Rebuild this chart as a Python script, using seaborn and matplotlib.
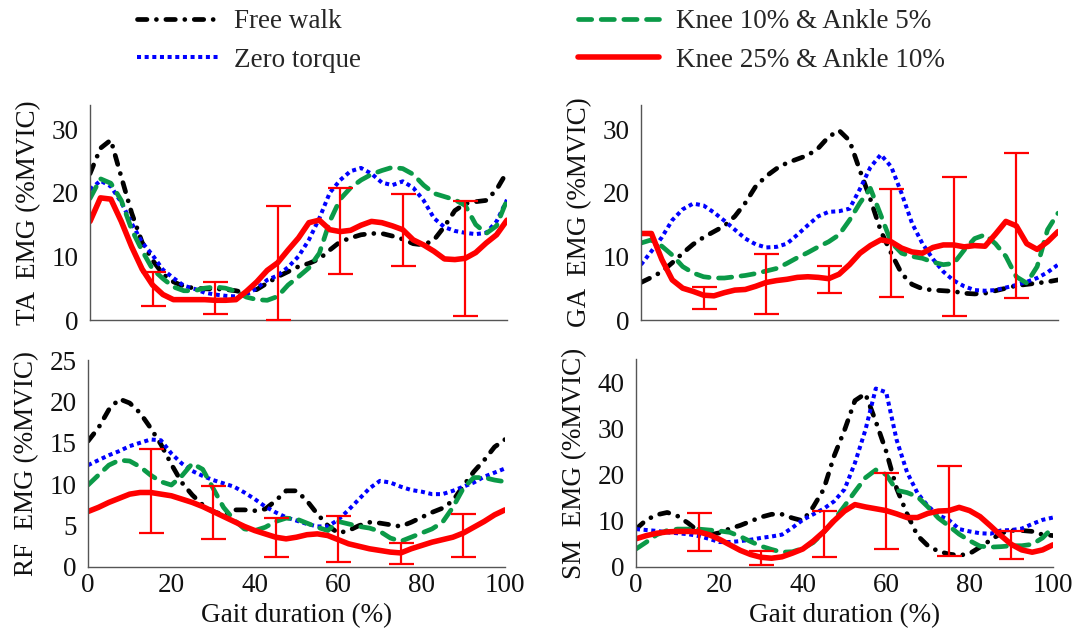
import numpy as np
import pandas as pd
import matplotlib
matplotlib.use("Agg")
import matplotlib.pyplot as plt
from matplotlib.lines import Line2D
import seaborn as sns

# ---------------------------------------------------------------- data
gait = np.arange(0, 100.1, 2.5)          # gait cycle (%)
bar_pos = [15, 30, 45, 60, 75, 90]       # where the SD bars of the K25/A10 condition sit

labels = ["Free walk", "Zero torque", "Knee 10% & Ankle 5%", "Knee 25% & Ankle 10%"]

# Tibialis anterior
ta_free = [23.0, 27.0, 28.3, 22.5, 16.8, 12.2, 9.4, 7.2, 6.0, 5.3, 5.0, 4.9, 4.9, 4.8, 4.6, 4.2, 4.8,
           5.8, 6.8, 7.6, 8.4, 8.9, 9.6, 11.0, 12.3, 12.9, 13.4, 13.6, 13.6, 13.2, 12.7, 12.0, 11.8,
           12.6, 14.7, 17.2, 18.3, 18.6, 18.8, 20.5, 23.3]
ta_zero = [20.5, 21.9, 21.0, 18.5, 15.2, 12.2, 10.2, 7.9, 6.6, 5.4, 4.9, 4.3, 4.0, 3.8, 3.7, 4.0, 5.0,
           6.3, 7.0, 8.3, 10.0, 12.6, 16.0, 20.0, 22.0, 23.4, 23.9, 23.0, 21.6, 21.2, 21.8, 20.8, 18.8,
           16.0, 14.6, 14.0, 13.7, 13.5, 13.7, 15.5, 18.9]
ta_k10 = [19.1, 22.2, 21.5, 18.8, 14.2, 10.9, 8.0, 6.5, 5.2, 4.6, 4.6, 5.0, 5.2, 5.0, 4.5, 3.6, 3.2,
          3.1, 3.7, 5.5, 6.8, 8.2, 10.5, 15.5, 19.0, 20.8, 22.0, 22.9, 23.5, 24.0, 23.8, 22.9, 21.2,
          19.9, 19.4, 18.9, 18.0, 15.0, 13.6, 14.8, 18.9]
ta_k25 = [15.5, 19.2, 19.0, 15.5, 11.5, 8.0, 5.5, 4.0, 3.2, 3.2, 3.2, 3.2, 3.1, 3.1, 3.2, 4.5, 6.0,
          7.8, 9.0, 11.0, 12.9, 15.3, 15.7, 14.2, 13.9, 14.1, 14.9, 15.5, 15.3, 14.8, 14.2, 12.6, 11.8,
          10.8, 9.6, 9.5, 9.7, 10.6, 12.1, 13.4, 15.7]
ta_lo = [2.2, 0.9, 0.0, 7.2, 8.5, 0.6]
ta_hi = [7.6, 5.9, 17.9, 20.7, 19.8, 18.7]

# Gastrocnemius
ga_free = [5.9, 6.7, 7.6, 9.0, 10.5, 11.9, 13.0, 13.9, 14.8, 16.3, 18.4, 21.0, 22.6, 23.8, 24.7, 25.3,
           25.9, 27.0, 28.8, 29.8, 28.2, 23.5, 19.0, 14.0, 10.5, 7.3, 5.6, 4.9, 4.7, 4.6, 4.5, 4.2,
           4.1, 4.2, 4.6, 5.0, 5.4, 5.6, 5.8, 6.0, 6.3]
ga_zero = [8.7, 10.8, 13.0, 15.7, 17.4, 18.3, 18.0, 16.9, 15.6, 14.2, 12.8, 11.9, 11.4, 11.5, 12.0, 13.4,
           14.9, 16.3, 17.0, 17.1, 17.5, 20.6, 24.0, 26.0, 24.1, 19.9, 15.2, 12.0, 9.6, 7.6, 6.2, 5.3,
           4.7, 4.6, 4.7, 5.1, 5.5, 6.0, 6.6, 7.5, 8.7]
ga_k10 = [12.1, 12.6, 11.6, 10.2, 8.4, 7.4, 6.8, 6.6, 6.6, 6.8, 7.0, 7.3, 7.7, 8.1, 8.9, 9.8, 10.6,
          11.5, 12.3, 13.4, 15.7, 18.4, 20.7, 16.5, 12.2, 10.5, 10.0, 9.7, 9.1, 8.7, 8.9, 11.0, 12.8,
          13.4, 12.0, 10.0, 6.8, 5.8, 8.4, 14.2, 16.8]
ga_k25 = [13.6, 13.6, 9.5, 6.3, 5.0, 4.5, 3.9, 3.8, 4.3, 4.7, 4.8, 5.3, 5.9, 6.2, 6.4, 6.7, 6.8, 6.7,
          6.5, 7.2, 8.7, 10.5, 11.7, 12.6, 12.3, 11.3, 10.7, 10.5, 11.4, 11.8, 11.8, 11.5, 11.7, 11.6,
          13.5, 15.5, 14.8, 12.0, 11.1, 12.3, 13.9]
ga_lo = [1.8, 0.9, 4.3, 3.6, 0.7, 3.4]
ga_hi = [5.2, 10.4, 8.5, 20.6, 22.5, 26.3]

# Rectus femoris
rf_free = [15.2, 16.8, 19.0, 20.3, 19.8, 18.6, 16.8, 14.8, 12.4, 10.2, 8.7, 7.5, 6.7, 6.3, 6.9, 6.9,
           6.8, 7.0, 8.0, 9.2, 9.2, 8.0, 6.4, 5.0, 4.1, 4.4, 5.0, 5.4, 5.3, 5.1, 4.9, 5.4, 6.0, 6.6,
           7.1, 8.0, 9.8, 11.5, 12.9, 14.5, 15.4]
rf_zero = [12.3, 12.9, 13.5, 14.0, 14.6, 15.0, 15.4, 15.3, 13.7, 12.5, 11.6, 11.0, 10.5, 10.1, 9.7, 9.0,
           8.2, 7.3, 6.6, 6.0, 5.6, 5.2, 4.9, 4.9, 5.7, 6.9, 8.2, 9.5, 10.4, 10.2, 9.7, 9.3, 9.1, 8.8,
           8.8, 9.2, 9.7, 10.2, 10.9, 11.4, 11.9]
rf_k10 = [9.9, 11.1, 12.3, 12.9, 12.8, 12.1, 11.1, 10.3, 9.9, 11.0, 12.5, 11.8, 9.5, 7.2, 5.7, 4.6,
          4.4, 4.8, 5.5, 5.9, 5.8, 5.3, 4.8, 4.4, 5.5, 5.2, 4.9, 4.7, 4.3, 3.5, 3.1, 3.6, 4.1, 4.6,
          5.4, 7.2, 9.5, 10.8, 10.8, 10.5, 10.3]
rf_k25 = [6.7, 7.2, 7.8, 8.3, 8.8, 9.0, 9.0, 8.8, 8.6, 8.2, 7.8, 7.3, 6.7, 6.1, 5.5, 4.9, 4.4, 4.0,
          3.6, 3.4, 3.6, 3.9, 4.0, 3.8, 3.3, 2.8, 2.5, 2.2, 2.0, 1.8, 1.7, 2.2, 2.6, 3.0, 3.3, 3.6,
          4.1, 4.8, 5.5, 6.3, 6.9]
rf_lo = [4.1, 3.4, 1.2, 0.6, 0.4, 1.2]
rf_hi = [14.3, 9.8, 5.9, 6.2, 2.9, 6.4]

# Semimembranosus
sm_free = [8.2, 10.2, 11.3, 11.8, 11.0, 9.5, 7.7, 6.9, 7.4, 8.3, 9.0, 9.9, 10.8, 11.4, 11.4, 10.6,
           10.0, 13.0, 16.8, 24.0, 29.6, 36.0, 37.5, 31.5, 25.0, 17.0, 11.5, 6.8, 4.6, 3.4, 2.8, 2.5,
           2.9, 4.3, 5.8, 7.3, 7.9, 7.9, 7.7, 7.0, 6.8]
sm_zero = [8.2, 8.0, 7.8, 7.5, 7.3, 7.1, 6.7, 6.1, 5.4, 5.4, 5.6, 5.9, 6.3, 6.6, 7.0, 8.5, 10.2, 11.4,
           12.6, 14.2, 16.8, 22.5, 29.6, 38.6, 37.8, 27.5, 20.5, 16.0, 13.2, 11.2, 10.2, 8.2, 7.7, 7.3,
           7.2, 7.9, 8.0, 8.3, 9.3, 10.2, 10.7]
sm_k10 = [3.9, 5.4, 7.0, 7.9, 8.2, 8.2, 8.2, 8.0, 7.8, 7.5, 6.6, 5.5, 4.5, 3.8, 3.2, 3.3, 4.0, 5.3,
          7.5, 10.2, 13.2, 16.3, 19.3, 21.0, 20.0, 16.6, 16.1, 15.2, 13.0, 10.6, 8.9, 7.1, 5.7, 4.5,
          4.3, 4.4, 4.6, 4.6, 4.9, 6.3, 8.6]
sm_k25 = [6.1, 6.8, 7.3, 7.6, 7.7, 7.7, 7.6, 7.0, 6.0, 4.8, 3.6, 2.7, 2.1, 1.9, 2.2, 3.0, 3.9, 5.6,
          7.6, 10.0, 12.1, 13.5, 13.0, 12.6, 12.2, 11.5, 10.7, 10.7, 11.6, 12.1, 12.2, 12.9, 12.2, 10.9,
          8.9, 6.8, 4.9, 3.7, 3.2, 3.7, 4.8]
sm_lo = [3.4, 0.5, 2.1, 3.8, 2.4, 1.8]
sm_hi = [11.6, 3.4, 12.1, 20.4, 21.8, 7.7]

# ---------------------------------------------------------------- styling
colors = ["#000000", "#0000FF", "#0B9A48", "#FF0000"]
widths = [3.4, 2.9, 3.4, 4.0]
styles = [(0, (2.0, 2.0, 0.01, 2.0)), (0, (1.0, 0.9)), (0, (2.8, 2.0)), "-"]
caps = ["round", "butt", "round", "round"]

sns.set_theme(style="white")
plt.rcParams["font.family"] = ["Liberation Serif", "DejaVu Serif"]
FS = 19.5

fig = plt.figure(figsize=(10.85, 6.31), dpi=100)
W, H = 1085.0, 631.0


def px_axes(left, right, bottom, top):
    return fig.add_axes([left / W, 1 - bottom / H, (right - left) / W, (bottom - top) / H])


panels = [
    dict(name="TA", box=(90, 507, 320, 105), ylim=33.8, yticks=[0, 10, 20, 30],
         series=[ta_free, ta_zero, ta_k10, ta_k25], lo=ta_lo, hi=ta_hi, xlab=False),
    dict(name="GA", box=(641, 1058, 320, 105), ylim=33.8, yticks=[0, 10, 20, 30],
         series=[ga_free, ga_zero, ga_k10, ga_k25], lo=ga_lo, hi=ga_hi, xlab=False),
    dict(name="RF", box=(88, 505, 567, 360), ylim=25, yticks=[0, 5, 10, 15, 20, 25],
         series=[rf_free, rf_zero, rf_k10, rf_k25], lo=rf_lo, hi=rf_hi, xlab=True),
    dict(name="SM", box=(636, 1053, 567, 359), ylim=45, yticks=[0, 10, 20, 30, 40],
         series=[sm_free, sm_zero, sm_k10, sm_k25], lo=sm_lo, hi=sm_hi, xlab=True),
]

for p in panels:
    ax = px_axes(*p["box"])
    for vals, lab, c, lw, ls, cap in zip(p["series"], labels, colors, widths, styles, caps):
        df = pd.DataFrame({"gait": gait, "emg": vals})
        sns.lineplot(data=df, x="gait", y="emg", ax=ax, color=c, linewidth=lw,
                     linestyle=ls, dash_capstyle=cap, solid_capstyle="round", legend=False)
    # standard-deviation bars on the Knee 25% & Ankle 10% curve
    k25 = np.asarray(p["series"][3])
    centre = np.array([k25[list(gait).index(b)] for b in bar_pos])
    yerr = [centre - np.asarray(p["lo"]), np.asarray(p["hi"]) - centre]
    ax.errorbar(bar_pos, centre, yerr=yerr, fmt="none", ecolor="#FF0000",
                elinewidth=1.6, capsize=9, capthick=1.6, zorder=5, clip_on=False)

    ax.set_xlim(0, 100)
    ax.set_ylim(0, p["ylim"])
    ax.set_xticks([0, 20, 40, 60, 80, 100])
    ax.set_yticks(p["yticks"])
    for side in ("top", "right"):
        ax.spines[side].set_visible(False)
    for side in ("left", "bottom"):
        ax.spines[side].set_color("#555555")
        ax.spines[side].set_linewidth(1.0)
    ax.tick_params(axis="both", direction="in", length=5, width=1.0, color="#555555",
                   labelsize=FS, labelcolor="#111111")
    ax.tick_params(axis="y", pad=8)
    ax.tick_params(axis="x", pad=4)
    ax.set_ylabel(f"{p['name']}  EMG (%MVIC)", fontsize=FS, color="#111111", va="center")
    ax.yaxis.set_label_coords(-0.148, 0.5)
    if p["xlab"]:
        ax.set_xlabel("Gait duration (%)", fontsize=FS, color="#111111", labelpad=4)
    else:
        ax.set_xlabel("")
        ax.tick_params(axis="x", labelbottom=False)

handles = [Line2D([], [], color=c, linewidth=lw, linestyle=ls, dash_capstyle=cap)
           for c, lw, ls, cap in zip(colors, widths, styles, caps)]
fig.legend(handles, labels, ncol=2, loc="upper left", bbox_to_anchor=(137 / W, 1 - 9 / H),
           frameon=False, fontsize=FS, handlelength=3.0, handletextpad=0.6,
           columnspacing=8.0, labelspacing=0.5, borderpad=0, borderaxespad=0)

fig.savefig("out.png", dpi=100)
